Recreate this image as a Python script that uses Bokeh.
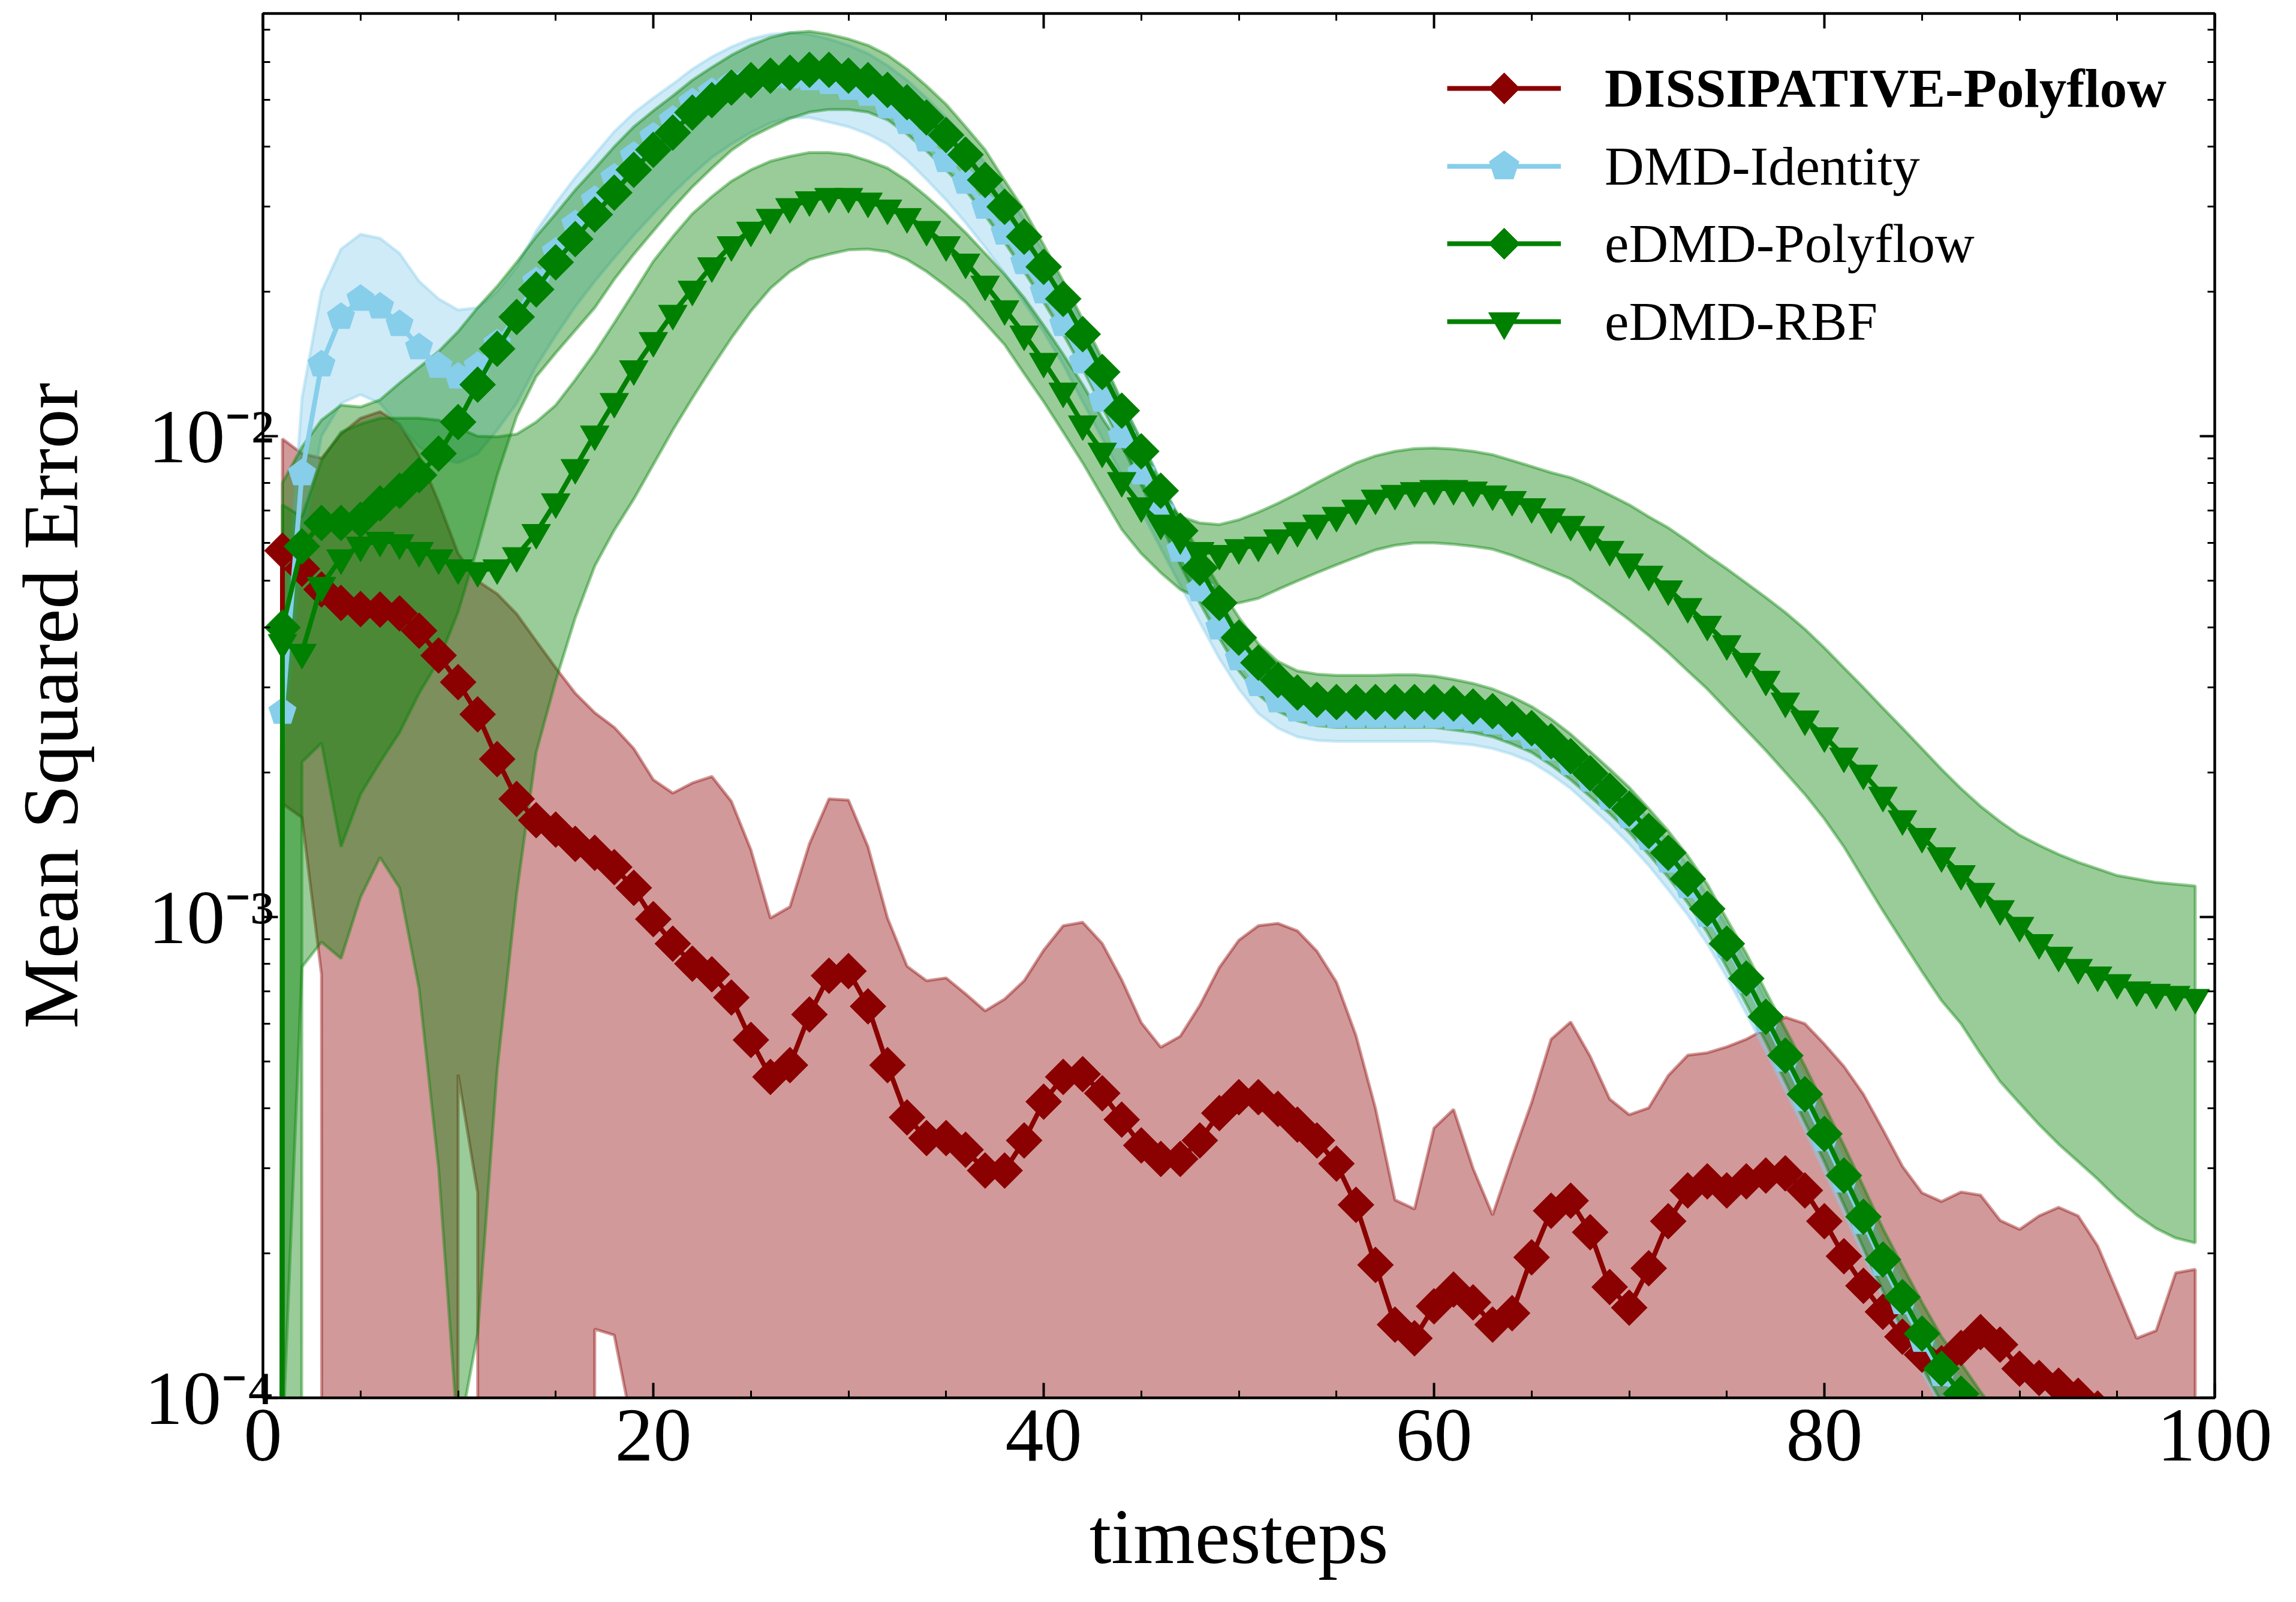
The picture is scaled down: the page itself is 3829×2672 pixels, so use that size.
import numpy as np
from bokeh.plotting import figure
from bokeh.models import (Legend, LegendItem, LinearAxis, LogAxis, SingleIntervalTicker,
                          LogTicker, Range1d, CustomJSTickFormatter)
from bokeh.embed import file_html
from bokeh.resources import INLINE

# ---------------- data ----------------
timesteps = list(range(100))

red_mean = [0, 5.78e-3, 5.3e-3, 4.8e-3, 4.5e-3, 4.37e-3, 4.36e-3, 4.28e-3, 3.94e-3, 3.5e-3,
            3.08e-3, 2.64e-3, 2.13e-3, 1.76e-3, 1.59e-3, 1.52e-3, 1.42e-3, 1.36e-3, 1.27e-3, 1.15e-3,
            9.9e-4, 8.8e-4, 8.0e-4, 7.6e-4, 6.8e-4, 5.55e-4, 4.65e-4, 4.92e-4, 6.27e-4, 7.55e-4,
            7.72e-4, 6.52e-4, 4.92e-4, 3.83e-4, 3.47e-4, 3.47e-4, 3.28e-4, 2.97e-4, 2.97e-4, 3.43e-4,
            4.13e-4, 4.65e-4, 4.71e-4, 4.3e-4, 3.79e-4, 3.35e-4, 3.14e-4, 3.14e-4, 3.43e-4, 3.91e-4,
            4.22e-4, 4.22e-4, 3.99e-4, 3.7e-4, 3.43e-4, 3.07e-4, 2.52e-4, 1.89e-4, 1.42e-4, 1.33e-4,
            1.55e-4, 1.68e-4, 1.58e-4, 1.42e-4, 1.5e-4, 1.96e-4, 2.45e-4, 2.57e-4, 2.21e-4, 1.7e-4,
            1.54e-4, 1.86e-4, 2.33e-4, 2.7e-4, 2.82e-4, 2.7e-4, 2.82e-4, 2.9e-4, 2.93e-4, 2.7e-4,
            2.33e-4, 1.97e-4, 1.71e-4, 1.51e-4, 1.34e-4, 1.23e-4, 1.18e-4, 1.27e-4, 1.37e-4, 1.29e-4,
            1.15e-4, 1.1e-4, 1.06e-4, 1.01e-4, 9.5e-5, 9.0e-5, 8.5e-5, 8.0e-5, 7.6e-5, 7.2e-5]
red_upper = [0, 9.87e-3, 9.2e-3, 9.0e-3, 1.01e-2, 1.09e-2, 1.125e-2, 1.06e-2, 9.1e-3, 7.3e-3,
             5.7e-3, 5.0e-3, 4.7e-3, 4.27e-3, 3.75e-3, 3.3e-3, 2.92e-3, 2.66e-3, 2.48e-3, 2.24e-3,
             1.93e-3, 1.81e-3, 1.9e-3, 1.96e-3, 1.74e-3, 1.38e-3, 9.95e-4, 1.05e-3, 1.42e-3, 1.76e-3,
             1.75e-3, 1.4e-3, 9.95e-4, 7.9e-4, 7.37e-4, 7.47e-4, 6.92e-4, 6.38e-4, 6.75e-4, 7.37e-4,
             8.53e-4, 9.59e-4, 9.75e-4, 8.81e-4, 7.4e-4, 6.03e-4, 5.36e-4, 5.65e-4, 6.55e-4, 7.85e-4,
             8.95e-4, 9.59e-4, 9.7e-4, 9.36e-4, 8.49e-4, 7.32e-4, 5.67e-4, 4.0e-4, 2.58e-4, 2.47e-4,
             3.64e-4, 3.98e-4, 3.0e-4, 2.4e-4, 3.16e-4, 4.11e-4, 5.57e-4, 6.05e-4, 5.13e-4, 4.18e-4,
             3.88e-4, 4.01e-4, 4.68e-4, 5.16e-4, 5.22e-4, 5.37e-4, 5.57e-4, 5.86e-4, 6.19e-4, 6.0e-4,
             5.44e-4, 4.89e-4, 4.28e-4, 3.61e-4, 3.03e-4, 2.67e-4, 2.56e-4, 2.68e-4, 2.64e-4, 2.34e-4,
             2.24e-4, 2.39e-4, 2.49e-4, 2.39e-4, 2.07e-4, 1.66e-4, 1.33e-4, 1.38e-4, 1.82e-4, 1.85e-4]
red_lower = [0, 1.72e-3, 1.61e-3, 7.6e-4, 0, 0, 0, 0, 0, 0,
             4.7e-4, 2.67e-4, 0, 0, 0, 0, 0, 1.39e-4, 1.35e-4, 8.4e-5,
             0, 0, 0, 0, 0, 0, 0, 0, 0, 0,
             0, 0, 0, 0, 0, 0, 0, 0, 0, 0,
             0, 0, 0, 0, 0, 0, 0, 0, 0, 0,
             0, 0, 0, 0, 0, 0, 0, 0, 0, 0,
             0, 0, 0, 0, 0, 0, 0, 0, 0, 0,
             0, 0, 0, 0, 0, 0, 0, 0, 0, 0,
             0, 0, 0, 0, 0, 0, 0, 0, 0, 0,
             0, 0, 0, 0, 0, 0, 0, 0, 0, 0]

dmd_mean = [0, 2.67e-3, 8.37e-3, 1.41e-2, 1.77e-2, 1.93e-2, 1.86e-2, 1.71e-2, 1.53e-2, 1.40e-2,
            1.33e-2, 1.40e-2, 1.56e-2, 1.78e-2, 2.1e-2, 2.42e-2, 2.76e-2, 3.1e-2, 3.45e-2, 3.83e-2,
            4.2e-2, 4.55e-2, 4.95e-2, 5.2e-2, 5.4e-2, 5.55e-2, 5.6e-2, 5.6e-2, 5.55e-2, 5.45e-2,
            5.3e-2, 5.15e-2, 4.85e-2, 4.5e-2, 4.14e-2, 3.75e-2, 3.38e-2, 3.0e-2, 2.65e-2, 2.3e-2,
            2.0e-2, 1.71e-2, 1.43e-2, 1.19e-2, 1.0e-2, 8.4e-3, 7.0e-3, 5.8e-3, 4.8e-3, 4.0e-3,
            3.45e-3, 3.05e-3, 2.82e-3, 2.7e-3, 2.64e-3, 2.62e-3, 2.62e-3, 2.62e-3, 2.62e-3, 2.62e-3,
            2.62e-3, 2.6e-3, 2.58e-3, 2.54e-3, 2.47e-3, 2.37e-3, 2.24e-3, 2.09e-3, 1.93e-3, 1.77e-3,
            1.62e-3, 1.46e-3, 1.31e-3, 1.16e-3, 1.01e-3, 8.7e-4, 7.35e-4, 6.1e-4, 5.05e-4, 4.18e-4,
            3.45e-4, 2.83e-4, 2.32e-4, 1.9e-4, 1.58e-4, 1.32e-4, 1.12e-4, 9.9e-5, 8.6e-5, 7.5e-5,
            6.6e-5, 5.8e-5, 5.1e-5, 4.5e-5, 4.0e-5, 3.6e-5, 3.2e-5, 2.9e-5, 2.6e-5, 2.4e-5]
dmd_upper = [0, 3.3e-3, 1.2e-2, 2.0e-2, 2.45e-2, 2.63e-2, 2.58e-2, 2.4e-2, 2.1e-2, 1.93e-2,
             1.83e-2, 1.85e-2, 2.0e-2, 2.25e-2, 2.67e-2, 3.05e-2, 3.45e-2, 3.85e-2, 4.3e-2, 4.7e-2,
             5.05e-2, 5.4e-2, 5.8e-2, 6.15e-2, 6.45e-2, 6.7e-2, 6.85e-2, 6.9e-2, 6.85e-2, 6.7e-2,
             6.5e-2, 6.25e-2, 5.9e-2, 5.5e-2, 5.05e-2, 4.6e-2, 4.15e-2, 3.7e-2, 3.25e-2, 2.82e-2,
             2.42e-2, 2.05e-2, 1.72e-2, 1.42e-2, 1.18e-2, 9.8e-3, 8.1e-3, 6.7e-3, 5.55e-3, 4.6e-3,
             3.9e-3, 3.4e-3, 3.1e-3, 2.95e-3, 2.88e-3, 2.85e-3, 2.85e-3, 2.85e-3, 2.85e-3, 2.85e-3,
             2.85e-3, 2.83e-3, 2.8e-3, 2.76e-3, 2.68e-3, 2.58e-3, 2.44e-3, 2.28e-3, 2.11e-3, 1.94e-3,
             1.78e-3, 1.6e-3, 1.44e-3, 1.28e-3, 1.11e-3, 9.6e-4, 8.1e-4, 6.75e-4, 5.6e-4, 4.6e-4,
             3.8e-4, 3.12e-4, 2.55e-4, 2.08e-4, 1.74e-4, 1.46e-4, 1.23e-4, 1.09e-4, 9.5e-5, 8.3e-5,
             7.3e-5, 6.4e-5, 5.6e-5, 5.0e-5, 4.4e-5, 4.0e-5, 3.5e-5, 3.2e-5, 2.9e-5, 2.6e-5]
dmd_lower = [0, 2.2e-3, 6.0e-3, 1.0e-2, 1.17e-2, 1.22e-2, 1.17e-2, 1.05e-2, 9.5e-3, 9.0e-3,
             8.8e-3, 9.2e-3, 1.03e-2, 1.17e-2, 1.4e-2, 1.62e-2, 1.86e-2, 2.1e-2, 2.35e-2, 2.62e-2,
             2.9e-2, 3.2e-2, 3.5e-2, 3.8e-2, 4.05e-2, 4.28e-2, 4.48e-2, 4.6e-2, 4.6e-2, 4.5e-2,
             4.4e-2, 4.25e-2, 4.05e-2, 3.75e-2, 3.42e-2, 3.1e-2, 2.78e-2, 2.47e-2, 2.18e-2, 1.9e-2,
             1.65e-2, 1.41e-2, 1.18e-2, 9.9e-3, 8.3e-3, 7.0e-3, 5.85e-3, 4.9e-3, 4.1e-3, 3.45e-3,
             2.98e-3, 2.65e-3, 2.47e-3, 2.37e-3, 2.33e-3, 2.32e-3, 2.32e-3, 2.32e-3, 2.32e-3, 2.32e-3,
             2.32e-3, 2.3e-3, 2.28e-3, 2.24e-3, 2.18e-3, 2.1e-3, 1.98e-3, 1.85e-3, 1.7e-3, 1.56e-3,
             1.42e-3, 1.28e-3, 1.14e-3, 1.01e-3, 8.8e-4, 7.5e-4, 6.3e-4, 5.25e-4, 4.35e-4, 3.6e-4,
             2.95e-4, 2.42e-4, 1.98e-4, 1.62e-4, 1.35e-4, 1.13e-4, 9.6e-5, 8.5e-5, 7.4e-5, 6.5e-5,
             5.7e-5, 5.0e-5, 4.4e-5, 3.9e-5, 3.5e-5, 3.1e-5, 2.8e-5, 2.5e-5, 2.3e-5, 2.1e-5]

poly_mean = [0, 4.0e-3, 5.9e-3, 6.6e-3, 6.6e-3, 6.7e-3, 7.25e-3, 7.7e-3, 8.3e-3, 9.2e-3,
             1.07e-2, 1.28e-2, 1.52e-2, 1.77e-2, 2.02e-2, 2.3e-2, 2.57e-2, 2.89e-2, 3.21e-2, 3.58e-2,
             3.94e-2, 4.28e-2, 4.71e-2, 5.0e-2, 5.31e-2, 5.5e-2, 5.62e-2, 5.7e-2, 5.78e-2, 5.78e-2,
             5.62e-2, 5.5e-2, 5.25e-2, 4.95e-2, 4.6e-2, 4.23e-2, 3.85e-2, 3.41e-2, 3.0e-2, 2.6e-2,
             2.25e-2, 1.93e-2, 1.63e-2, 1.36e-2, 1.13e-2, 9.3e-3, 7.7e-3, 6.36e-3, 5.32e-3, 4.5e-3,
             3.81e-3, 3.38e-3, 3.11e-3, 2.93e-3, 2.83e-3, 2.8e-3, 2.8e-3, 2.8e-3, 2.8e-3, 2.8e-3,
             2.8e-3, 2.78e-3, 2.74e-3, 2.68e-3, 2.58e-3, 2.47e-3, 2.32e-3, 2.16e-3, 1.99e-3, 1.83e-3,
             1.68e-3, 1.51e-3, 1.36e-3, 1.2e-3, 1.04e-3, 8.8e-4, 7.45e-4, 6.2e-4, 5.15e-4, 4.28e-4,
             3.54e-4, 2.9e-4, 2.38e-4, 1.94e-4, 1.62e-4, 1.36e-4, 1.15e-4, 1.02e-4, 8.9e-5, 7.8e-5,
             6.9e-5, 6.1e-5, 5.4e-5, 4.8e-5, 4.3e-5, 3.9e-5, 3.5e-5, 3.2e-5, 2.9e-5, 2.7e-5]
poly_upper = [0, 8.0e-3, 9.5e-3, 1.08e-2, 1.16e-2, 1.15e-2, 1.19e-2, 1.29e-2, 1.39e-2, 1.5e-2,
              1.65e-2, 1.85e-2, 2.05e-2, 2.3e-2, 2.6e-2, 2.9e-2, 3.25e-2, 3.6e-2, 4.0e-2, 4.4e-2,
              4.75e-2, 5.1e-2, 5.5e-2, 5.85e-2, 6.2e-2, 6.5e-2, 6.75e-2, 6.9e-2, 6.95e-2, 6.85e-2,
              6.7e-2, 6.5e-2, 6.2e-2, 5.8e-2, 5.35e-2, 4.9e-2, 4.4e-2, 3.94e-2, 3.4e-2, 2.95e-2,
              2.5e-2, 2.1e-2, 1.75e-2, 1.45e-2, 1.18e-2, 9.8e-3, 8.0e-3, 6.7e-3, 5.7e-3, 4.85e-3,
              4.2e-3, 3.7e-3, 3.4e-3, 3.25e-3, 3.2e-3, 3.18e-3, 3.18e-3, 3.18e-3, 3.19e-3, 3.19e-3,
              3.17e-3, 3.12e-3, 3.06e-3, 2.98e-3, 2.87e-3, 2.74e-3, 2.58e-3, 2.4e-3, 2.21e-3, 2.03e-3,
              1.86e-3, 1.68e-3, 1.51e-3, 1.34e-3, 1.17e-3, 9.9e-4, 8.4e-4, 7.0e-4, 5.85e-4, 4.9e-4,
              4.05e-4, 3.35e-4, 2.75e-4, 2.25e-4, 1.88e-4, 1.58e-4, 1.34e-4, 1.18e-4, 1.03e-4, 9.1e-5,
              8.1e-5, 7.2e-5, 6.4e-5, 5.7e-5, 5.1e-5, 4.6e-5, 4.1e-5, 3.7e-5, 3.4e-5, 3.1e-5]
poly_lower = [0, 0, 2.1e-3, 2.3e-3, 1.4e-3, 1.8e-3, 2.1e-3, 2.42e-3, 2.92e-3, 3.41e-3,
              4.31e-3, 5.89e-3, 8.3e-3, 1.1e-2, 1.33e-2, 1.49e-2, 1.66e-2, 1.85e-2, 2.12e-2, 2.39e-2,
              2.67e-2, 2.98e-2, 3.3e-2, 3.61e-2, 3.93e-2, 4.19e-2, 4.39e-2, 4.58e-2, 4.72e-2, 4.78e-2,
              4.78e-2, 4.72e-2, 4.55e-2, 4.25e-2, 3.92e-2, 3.58e-2, 3.25e-2, 2.88e-2, 2.53e-2, 2.2e-2,
              1.9e-2, 1.63e-2, 1.38e-2, 1.15e-2, 9.6e-3, 7.9e-3, 6.55e-3, 5.4e-3, 4.5e-3, 3.8e-3,
              3.25e-3, 2.9e-3, 2.68e-3, 2.56e-3, 2.5e-3, 2.48e-3, 2.48e-3, 2.48e-3, 2.48e-3, 2.48e-3,
              2.48e-3, 2.45e-3, 2.42e-3, 2.37e-3, 2.29e-3, 2.2e-3, 2.07e-3, 1.93e-3, 1.78e-3, 1.64e-3,
              1.5e-3, 1.35e-3, 1.21e-3, 1.07e-3, 9.3e-4, 7.85e-4, 6.6e-4, 5.5e-4, 4.55e-4, 3.75e-4,
              3.1e-4, 2.52e-4, 2.05e-4, 1.67e-4, 1.39e-4, 1.16e-4, 9.8e-5, 8.7e-5, 7.6e-5, 6.6e-5,
              5.8e-5, 5.1e-5, 4.5e-5, 4.0e-5, 3.6e-5, 3.2e-5, 2.9e-5, 2.6e-5, 2.4e-5, 2.2e-5]

rbf_mean = [0, 3.72e-3, 3.55e-3, 4.89e-3, 5.58e-3, 5.93e-3, 6.07e-3, 6.0e-3, 5.78e-3, 5.58e-3,
            5.32e-3, 5.25e-3, 5.32e-3, 5.64e-3, 6.3e-3, 7.3e-3, 8.6e-3, 1.01e-2, 1.18e-2, 1.38e-2,
            1.58e-2, 1.8e-2, 2.02e-2, 2.26e-2, 2.5e-2, 2.68e-2, 2.85e-2, 3.0e-2, 3.1e-2, 3.15e-2,
            3.15e-2, 3.08e-2, 2.98e-2, 2.86e-2, 2.69e-2, 2.5e-2, 2.3e-2, 2.07e-2, 1.84e-2, 1.63e-2,
            1.43e-2, 1.24e-2, 1.06e-2, 9.3e-3, 8.08e-3, 7.16e-3, 6.59e-3, 6.14e-3, 5.78e-3, 5.7e-3,
            5.86e-3, 5.93e-3, 6.14e-3, 6.36e-3, 6.59e-3, 6.84e-3, 7.08e-3, 7.43e-3, 7.6e-3, 7.7e-3,
            7.78e-3, 7.78e-3, 7.72e-3, 7.58e-3, 7.38e-3, 7.13e-3, 6.79e-3, 6.55e-3, 6.24e-3, 5.81e-3,
            5.47e-3, 5.16e-3, 4.81e-3, 4.42e-3, 4.06e-3, 3.7e-3, 3.4e-3, 3.12e-3, 2.81e-3, 2.58e-3,
            2.38e-3, 2.16e-3, 1.99e-3, 1.79e-3, 1.6e-3, 1.47e-3, 1.34e-3, 1.23e-3, 1.13e-3, 1.04e-3,
            9.6e-4, 8.84e-4, 8.32e-4, 7.85e-4, 7.57e-4, 7.3e-4, 7.05e-4, 6.97e-4, 6.9e-4, 6.8e-4]
rbf_upper = [0, 7.2e-3, 6.8e-3, 8.9e-3, 1.02e-2, 1.06e-2, 1.09e-2, 1.09e-2, 1.09e-2, 1.08e-2,
             1.04e-2, 1.0e-2, 9.97e-3, 1.01e-2, 1.07e-2, 1.16e-2, 1.31e-2, 1.49e-2, 1.72e-2, 1.99e-2,
             2.31e-2, 2.6e-2, 2.9e-2, 3.15e-2, 3.39e-2, 3.58e-2, 3.73e-2, 3.82e-2, 3.89e-2, 3.89e-2,
             3.85e-2, 3.74e-2, 3.61e-2, 3.4e-2, 3.15e-2, 2.9e-2, 2.65e-2, 2.4e-2, 2.17e-2, 1.94e-2,
             1.7e-2, 1.48e-2, 1.28e-2, 1.09e-2, 9.5e-3, 8.3e-3, 7.5e-3, 6.8e-3, 6.6e-3, 6.55e-3,
             6.7e-3, 6.95e-3, 7.25e-3, 7.6e-3, 8.0e-3, 8.4e-3, 8.8e-3, 9.1e-3, 9.3e-3, 9.42e-3,
             9.45e-3, 9.4e-3, 9.3e-3, 9.15e-3, 8.9e-3, 8.65e-3, 8.4e-3, 8.2e-3, 7.9e-3, 7.55e-3,
             7.2e-3, 6.8e-3, 6.45e-3, 6.05e-3, 5.65e-3, 5.3e-3, 4.95e-3, 4.62e-3, 4.3e-3, 3.97e-3,
             3.63e-3, 3.3e-3, 3.0e-3, 2.72e-3, 2.47e-3, 2.24e-3, 2.03e-3, 1.85e-3, 1.7e-3, 1.58e-3,
             1.48e-3, 1.41e-3, 1.35e-3, 1.3e-3, 1.26e-3, 1.22e-3, 1.2e-3, 1.18e-3, 1.17e-3, 1.16e-3]
rbf_lower = [0, 8e-5, 7.87e-4, 8.87e-4, 8.2e-4, 1.1e-3, 1.33e-3, 1.15e-3, 7.1e-4, 3.0e-4,
             8.2e-5, 1.36e-4, 4.81e-4, 1.12e-3, 2.2e-3, 3.1e-3, 4.19e-3, 5.37e-3, 6.38e-3, 7.4e-3,
             8.73e-3, 1.03e-2, 1.2e-2, 1.39e-2, 1.6e-2, 1.82e-2, 2.03e-2, 2.2e-2, 2.33e-2, 2.39e-2,
             2.44e-2, 2.45e-2, 2.42e-2, 2.33e-2, 2.2e-2, 2.05e-2, 1.9e-2, 1.72e-2, 1.55e-2, 1.35e-2,
             1.18e-2, 1.02e-2, 8.8e-3, 7.5e-3, 6.4e-3, 5.7e-3, 5.2e-3, 4.8e-3, 4.6e-3, 4.5e-3,
             4.5e-3, 4.6e-3, 4.8e-3, 5.0e-3, 5.2e-3, 5.4e-3, 5.6e-3, 5.8e-3, 5.93e-3, 6.0e-3,
             6.0e-3, 5.96e-3, 5.9e-3, 5.82e-3, 5.65e-3, 5.45e-3, 5.25e-3, 5.05e-3, 4.75e-3, 4.45e-3,
             4.15e-3, 3.85e-3, 3.55e-3, 3.25e-3, 2.98e-3, 2.7e-3, 2.45e-3, 2.22e-3, 2.0e-3, 1.8e-3,
             1.6e-3, 1.4e-3, 1.2e-3, 1.03e-3, 8.9e-4, 7.7e-4, 6.7e-4, 6.0e-4, 5.2e-4, 4.55e-4,
             4.1e-4, 3.7e-4, 3.37e-4, 3.1e-4, 2.85e-4, 2.6e-4, 2.4e-4, 2.25e-4, 2.15e-4, 2.1e-4]

labels = ["DISSIPATIVE-Polyflow", "DMD-Identity", "eDMD-Polyflow", "eDMD-RBF"]
colors = ["#8b0000", "#87ceeb", "#008000", "#008000"]

FONT = "Liberation Serif"
FLOOR = 1e-100   # zero / negative values are clipped far below the axis, as on a log scale

t = np.array(timesteps, dtype=float)

p = figure(frame_width=3255, frame_height=2309,
           x_range=Range1d(0, 100), y_range=Range1d(1e-4, 7.57e-2),
           y_axis_type="log", output_backend="svg", toolbar_location=None,
           min_border_left=438, min_border_right=120, min_border_top=22, min_border_bottom=325)
p.xgrid.grid_line_color = None
p.ygrid.grid_line_color = None
p.outline_line_color = "black"
p.outline_line_width = 4
p.background_fill_color = "white"
p.border_fill_color = "white"


def clip(a):
    return np.maximum(np.array(a, dtype=float), FLOOR)


def band(upper, lower, color):
    xs = np.concatenate([t, t[::-1]])
    ys = np.concatenate([clip(upper), clip(lower)[::-1]])
    p.patch(xs, ys, fill_color=color, fill_alpha=0.4,
            line_color=color, line_alpha=0.4, line_width=5)


band(red_upper, red_lower, colors[0])
band(dmd_upper, dmd_lower, colors[1])
band(poly_upper, poly_lower, colors[2])
band(rbf_upper, rbf_lower, colors[3])

LW = 8
r0l = p.line(t, clip(red_mean), line_color=colors[0], line_width=LW)
r0m = p.ngon(x=t, y=clip(red_mean), radius=30, radius_units="screen", n=4, angle=0,
             fill_color=colors[0], line_color=colors[0])

r1l = p.line(t, clip(dmd_mean), line_color=colors[1], line_width=LW)
r1m = p.ngon(x=t, y=clip(dmd_mean), radius=24, radius_units="screen", n=5, angle=0,
             fill_color=colors[1], line_color=colors[1])

r2l = p.line(t, clip(poly_mean), line_color=colors[2], line_width=LW)
r2m = p.ngon(x=t, y=clip(poly_mean), radius=30, radius_units="screen", n=4, angle=0,
             fill_color=colors[2], line_color=colors[2])

r3l = p.line(t, clip(rbf_mean), line_color=colors[3], line_width=LW)
r3m = p.scatter(t, clip(rbf_mean), marker="inverted_triangle", size=48,
                fill_color=colors[3], line_color=colors[3])

# ---------------- axes ----------------
def style_axis(ax, show_labels=True):
    ax.axis_line_width = 4
    ax.axis_line_color = "black"
    ax.major_tick_in = 25
    ax.major_tick_out = 0
    ax.minor_tick_in = 12
    ax.minor_tick_out = 0
    ax.major_tick_line_width = 4
    ax.minor_tick_line_width = 3
    ax.major_tick_line_color = "black"
    ax.minor_tick_line_color = "black"
    ax.major_label_text_font = FONT
    if show_labels:
        ax.major_label_text_font_size = "128px"
        ax.major_label_text_color = "black"
    else:
        ax.major_label_text_font_size = "10px"
        ax.major_label_text_color = None
        ax.major_label_standoff = 0


xax = p.xaxis[0]
xax.ticker = SingleIntervalTicker(interval=20, num_minor_ticks=4)
style_axis(xax)
xax.major_label_standoff = 20
xax.axis_label = "timesteps"
xax.axis_label_text_font = FONT
xax.axis_label_text_font_size = "132px"
xax.axis_label_text_font_style = "normal"
xax.axis_label_text_color = "black"
xax.axis_label_standoff = 50

yax = p.yaxis[0]
yax.ticker = LogTicker(num_minor_ticks=10)
yax.formatter = CustomJSTickFormatter(code=r"""
const sup = {"-": "\u207b", "0": "\u2070", "1": "\u00b9", "2": "\u00b2", "3": "\u00b3",
             "4": "\u2074", "5": "\u2075", "6": "\u2076", "7": "\u2077", "8": "\u2078", "9": "\u2079"};
const e = Math.round(Math.log10(tick));
return "10" + String(e).split("").map((c) => sup[c]).join("");
""")
style_axis(yax)
yax.major_label_standoff = -18
yax.axis_label = "Mean Squared Error"
yax.axis_label_text_font = FONT
yax.axis_label_text_font_size = "132px"
yax.axis_label_text_font_style = "normal"
yax.axis_label_text_color = "black"
yax.axis_label_standoff = 80

top = LinearAxis(ticker=SingleIntervalTicker(interval=20, num_minor_ticks=4))
style_axis(top, show_labels=False)
p.add_layout(top, "above")
right = LogAxis(ticker=LogTicker(num_minor_ticks=10))
style_axis(right, show_labels=False)
p.add_layout(right, "right")

# ---------------- legend (upper right of the frame) ----------------
def make_legend(items, margin, label_width):
    lg = Legend(items=items, location="top_right")
    lg.label_text_font = FONT
    lg.label_text_font_size = "91px"
    lg.label_text_color = "black"
    lg.glyph_width = 190
    lg.glyph_height = 130
    lg.label_height = 130
    lg.label_width = label_width
    lg.label_standoff = 73
    lg.spacing = 0
    lg.padding = 0
    lg.margin = margin
    lg.border_line_alpha = 0
    lg.background_fill_alpha = 0
    return lg


leg1 = make_legend([LegendItem(label=labels[0], renderers=[r0l, r0m])], 60, 957)
leg1.label_text_font_style = "bold"
leg2 = make_legend([LegendItem(label=labels[1], renderers=[r1l, r1m])], 190, 827)
leg3 = make_legend([LegendItem(label=labels[2], renderers=[r2l, r2m]),
                    LegendItem(label=labels[3], renderers=[r3l, r3m])], 319, 698)
p.add_layout(leg1, "center")
p.add_layout(leg2, "center")
p.add_layout(leg3, "center")

open("out.html", "w").write(file_html(p, INLINE))
